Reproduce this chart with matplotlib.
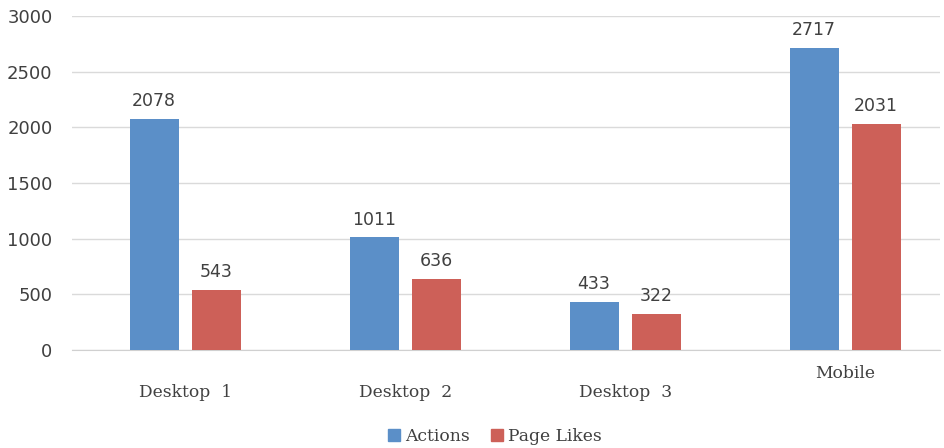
import matplotlib
matplotlib.use("Agg")
import matplotlib.pyplot as plt
import numpy as np
from matplotlib.patches import Patch
import matplotlib.transforms as mtrans

categories = ["Desktop  1", "Desktop  2", "Desktop  3", "Mobile"]
actions = [2078, 1011, 433, 2717]
page_likes = [543, 636, 322, 2031]
series_names = ["Actions", "Page Likes"]
yticks = [0, 500, 1000, 1500, 2000, 2500, 3000]

blue = "#5B8FC8"
red = "#CD6058"

fig = plt.figure(figsize=(9.45, 4.48), dpi=100)
ax = fig.add_axes([72/945, 1 - 350/448, (940-72)/945, (350-16)/448])

x = np.arange(len(categories))
w = 0.223
ax.bar(x - 0.142, actions, w, color=blue, zorder=3)
ax.bar(x + 0.140, page_likes, w, color=red, zorder=3)

for xi, v in zip(x - 0.142, actions):
    ax.text(xi, v + 80, str(v), ha="center", va="bottom", fontsize=12.5, color="#404040", family="DejaVu Sans")
for xi, v in zip(x + 0.140, page_likes):
    ax.text(xi, v + 80, str(v), ha="center", va="bottom", fontsize=12.5, color="#404040", family="DejaVu Sans")

ax.set_xlim(-0.515, 3.43)
ax.set_ylim(0, 3000)
ax.set_yticks(yticks)
ax.set_yticklabels([str(t) for t in yticks], fontsize=13, color="#404040")
ax.tick_params(axis="y", length=0, pad=14)
ax.set_xticks([])
ax.yaxis.grid(True, color="#DADADA", linewidth=1, zorder=0)
for s in ["top", "right", "left"]:
    ax.spines[s].set_visible(False)
ax.spines["bottom"].set_color("#D0D0D0")

trans = mtrans.blended_transform_factory(ax.transData, ax.transAxes)
label_y = [-0.128, -0.128, -0.128, -0.07]
for xi, lab, ly in zip(x, categories, label_y):
    ax.text(xi, ly, lab, transform=trans, ha="center", va="center", fontsize=12.3,
            color="#404040", family="DejaVu Serif")

handles = [Patch(color=blue), Patch(color=red)]
fig.legend(handles, series_names, loc="center", bbox_to_anchor=(495/945, 1 - 436/448),
           ncol=2, frameon=False, prop={"family": "DejaVu Serif", "size": 12.3},
           handlelength=0.7, handleheight=0.7, handletextpad=0.3, columnspacing=1.2,
           labelcolor="#404040")

fig.savefig("out.png", dpi=100)
